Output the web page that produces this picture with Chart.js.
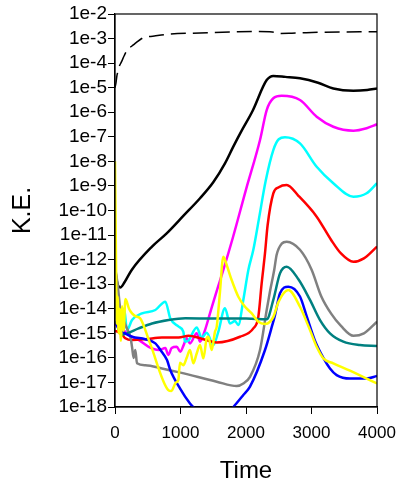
<!DOCTYPE html>
<html>
<head>
<meta charset="utf-8">
<script src="https://cdn.jsdelivr.net/npm/chart.js@4.4.1/dist/chart.umd.min.js"></script>
<style>
  body { margin: 0; background: #fff; }
  #wrap { width: 399px; height: 486px; }
</style>
</head>
<body>
<div id="wrap"><canvas id="myChart"></canvas></div>
<script>
// y values are read as log10 exponents (K.E. = 10^e)
var yDecades = [-2, -3, -4, -5, -6, -7, -8, -9, -10, -11, -12, -13, -14, -15, -16, -17, -18];
var yTickLabels = ['1e-2', '1e-3', '1e-4', '1e-5', '1e-6', '1e-7', '1e-8', '1e-9', '1e-10',
    '1e-11', '1e-12', '1e-13', '1e-14', '1e-15', '1e-16', '1e-17', '1e-18'];
var xTickLabels = ['0', '1000', '2000', '3000', '4000'];

var totalT = [0, 15, 30, 50, 70, 100, 140, 180, 280, 430, 600, 790, 1300, 1800, 2200, 2400, 2520, 2700, 3200, 4000];
var totalE = [-5.0, -4.8, -4.5, -4.3, -4.1, -3.94, -3.7, -3.5, -3.26, -2.97, -2.9, -2.83, -2.77, -2.73, -2.71, -2.73, -2.79, -2.78, -2.74, -2.72];

var blackT = [0, 30, 80, 150, 255, 565, 789, 1050, 1298, 1500, 1679, 1806, 1934, 2100, 2316, 2417, 2600, 2824, 3100, 3333, 3639, 3850, 4000];
var blackE = [-12.3, -12.9, -13.13, -12.9, -12.42, -11.47, -10.93, -10.2, -9.5, -8.85, -8.08, -7.4, -6.75, -5.95, -4.69, -4.52, -4.56, -4.62, -4.8, -5.03, -5.12, -5.09, -5.03];

var magentaT = [0, 60, 132, 209, 361, 514, 667, 768, 814, 865, 942, 997, 1048, 1094, 1145, 1247, 1298, 1374, 1450, 1550, 1654, 1800, 2000, 2214, 2316, 2417, 2545, 2824, 3079, 3333, 3639, 3842, 4000];
var magentaE = [-14.6, -14.75, -14.87, -15.07, -15.27, -15.55, -15.68, -15.6, -15.88, -15.6, -15.55, -15.75, -15.48, -15.2, -15.41, -15.0, -15.34, -14.87, -14.19, -13.3, -12.42, -11.1, -9.15, -7.13, -5.91, -5.43, -5.33, -5.5, -6.18, -6.59, -6.75, -6.65, -6.49];

var cyanT = [0, 20, 40, 60, 80, 107, 140, 183, 260, 412, 616, 768, 845, 972, 1043, 1069, 1120, 1247, 1323, 1400, 1501, 1578, 1679, 1756, 1832, 1883, 1959, 2036, 2112, 2200, 2300, 2417, 2500, 2595, 2824, 3079, 3333, 3639, 3842, 4000];
var cyanE = [-12.3, -13.8, -14.3, -14.9, -14.2, -14.6, -14.0, -14.87, -14.46, -14.19, -14.05, -13.71, -14.4, -14.73, -14.93, -15.34, -15.3, -14.76, -15.17, -14.98, -15.48, -14.93, -13.98, -14.6, -14.5, -14.66, -13.64, -12.42, -11.6, -10.3, -8.8, -7.54, -7.1, -7.02, -7.27, -8.22, -8.89, -9.44, -9.3, -8.89];

var redT = [0, 60, 107, 158, 260, 463, 717, 972, 1125, 1300, 1553, 1908, 2112, 2188, 2239, 2290, 2330, 2417, 2500, 2621, 2800, 3079, 3300, 3450, 3639, 3800, 4000];
var redE = [-14.9, -14.95, -15.05, -15.2, -15.27, -15.24, -15.17, -15.17, -15.1, -15.2, -15.37, -15.14, -14.8, -14.33, -12.97, -11.74, -10.6, -9.3, -9.05, -8.96, -9.4, -10.25, -11.2, -11.75, -12.09, -11.95, -11.47];

var grayT = [0, 40, 80, 150, 200, 234, 260, 285, 310, 336, 463, 717, 1000, 1553, 1858, 1959, 2061, 2214, 2316, 2366, 2432, 2468, 2545, 2621, 2824, 3000, 3150, 3300, 3450, 3639, 3800, 4000];
var grayE = [-12.3, -13.0, -14.0, -14.6, -14.9, -15.14, -15.55, -16.0, -15.68, -16.22, -16.3, -16.43, -16.6, -16.97, -17.15, -17.04, -16.77, -15.68, -14.05, -13.3, -12.4, -11.8, -11.35, -11.27, -11.6, -12.4, -13.5, -14.2, -14.7, -15.1, -15.0, -14.53];

var tealT = [0, 25, 50, 120, 183, 361, 565, 819, 1074, 1500, 2000, 2316, 2417, 2519, 2621, 2800, 2977, 3130, 3282, 3486, 3740, 4000];
var tealE = [-13.5, -14.2, -14.8, -15.05, -15.0, -14.8, -14.6, -14.46, -14.39, -14.4, -14.4, -14.43, -13.64, -12.56, -12.29, -12.8, -13.64, -14.46, -15.0, -15.34, -15.48, -15.52];

var blueT = [0, 50, 107, 260, 463, 616, 700, 794, 845, 992, 1145, 1221, 1464, 1832, 1959, 2061, 2290, 2402, 2443, 2519, 2646, 2824, 2926, 3053, 3181, 3282, 3384, 3588, 3842, 4000];
var blueE = [-14.5, -14.8, -14.93, -15.14, -15.24, -15.41, -15.7, -16.09, -16.5, -17.24, -17.86, -18.08, -19.0, -17.92, -17.51, -17.17, -15.68, -14.66, -14.26, -13.37, -13.1, -13.5, -14.3, -15.3, -16.0, -16.43, -16.7, -16.84, -16.84, -16.74];

var yellowT = [0, 15, 25, 40, 55, 70, 90, 110, 130, 160, 214, 260, 310, 386, 534, 814, 860, 930, 967, 992, 1043, 1094, 1145, 1196, 1247, 1298, 1349, 1400, 1425, 1476, 1527, 1553, 1600, 1654, 1705, 1781, 1883, 1985, 2087, 2188, 2290, 2366, 2417, 2500, 2646, 2824, 2977, 3079, 3181, 3333, 3588, 3842, 4000];
var yellowE = [-8.0, -12.0, -14.6, -13.5, -15.0, -14.0, -15.3, -13.9, -14.9, -13.6, -14.0, -14.19, -14.3, -14.4, -15.4, -17.31, -17.35, -17.0, -16.9, -16.2, -16.3, -16.0, -15.68, -16.22, -15.82, -15.48, -16.02, -15.2, -15.14, -15.68, -14.93, -14.73, -13.4, -11.88, -12.22, -12.83, -13.51, -13.92, -14.19, -14.53, -14.62, -14.53, -14.33, -13.7, -13.24, -13.92, -14.87, -15.55, -16.02, -16.22, -16.52, -16.84, -17.04];

function pts(ts, es) {
    return ts.map(function (t, i) { return { x: t, y: Math.pow(10, es[i]) }; });
}

function line(label, ts, es, color, width, dash) {
    return {
        label: label,
        data: pts(ts, es),
        borderColor: color,
        backgroundColor: color,
        borderWidth: width,
        borderDash: dash || [],
        pointRadius: 0,
        cubicInterpolationMode: 'monotone',
        fill: false
    };
}

var boxPlugin = {
    id: 'box',
    afterDraw: function (chart) {
        var a = chart.chartArea, c = chart.ctx;
        c.save();
        c.strokeStyle = '#000';
        c.lineWidth = 1.2;
        c.strokeRect(a.left, a.top, a.right - a.left, a.bottom - a.top);
        c.restore();
    }
};

var ctx = document.getElementById('myChart').getContext('2d');
var myChart = new Chart(ctx, {
    type: 'line',
    data: {
        datasets: [
            line('yellow', yellowT, yellowE, '#ffff00', 2.5),
            line('blue', blueT, blueE, '#0000ff', 2.5),
            line('teal', tealT, tealE, '#008080', 2.5),
            line('gray', grayT, grayE, '#808080', 2.5),
            line('red', redT, redE, '#ff0000', 2.5),
            line('cyan', cyanT, cyanE, '#00ffff', 2.5),
            line('magenta', magentaT, magentaE, '#ff00ff', 2.5),
            line('black', blackT, blackE, '#000000', 2.5),
            line('total', totalT, totalE, '#000000', 1.5, [15, 7])
        ]
    },
    options: {
        responsive: true,
        maintainAspectRatio: false,
        animation: false,
        layout: { padding: { top: 14, right: 22, left: 0, bottom: 0 } },
        plugins: {
            legend: { display: false },
            tooltip: { enabled: false }
        },
        scales: {
            x: {
                type: 'linear',
                min: 0,
                max: 4000,
                afterFit: function (scale) {
                    scale.height = 79;
                    scale.paddingLeft = 0;
                    scale.paddingRight = 0;
                },
                ticks: {
                    stepSize: 1000,
                    color: '#000',
                    padding: 9,
                    maxRotation: 0,
                    font: { family: 'Liberation Sans, Arial, sans-serif', size: 17 },
                    callback: function (value, index) { return xTickLabels[index]; }
                },
                grid: { drawOnChartArea: false, drawTicks: true, tickLength: 7, color: '#000' },
                border: { display: true, color: '#000', width: 1.2 },
                title: {
                    display: true,
                    text: 'Time',
                    color: '#000',
                    padding: { top: 0, bottom: 0 },
                    font: { family: 'Liberation Sans, Arial, sans-serif', size: 24 }
                }
            },
            y: {
                type: 'logarithmic',
                min: Math.pow(10, -18),
                max: Math.pow(10, -2),
                afterFit: function (scale) {
                    scale.width = 115;
                    scale.paddingTop = 0;
                    scale.paddingBottom = 0;
                },
                afterBuildTicks: function (scale) {
                    scale.ticks = yDecades.map(function (e) { return { value: Math.pow(10, e) }; });
                },
                ticks: {
                    autoSkip: false,
                    color: '#000',
                    padding: 1,
                    font: { family: 'Liberation Sans, Arial, sans-serif', size: 19 },
                    callback: function (value, index) { return yTickLabels[index]; }
                },
                grid: { drawOnChartArea: false, drawTicks: true, tickLength: 7, color: '#000' },
                border: { display: true, color: '#000', width: 1.2 },
                title: {
                    display: true,
                    text: 'K.E.',
                    color: '#000',
                    padding: { top: 8, bottom: 0 },
                    font: { family: 'Liberation Sans, Arial, sans-serif', size: 25 }
                }
            }
        }
    },
    plugins: [boxPlugin]
});
</script>
</body>
</html>
